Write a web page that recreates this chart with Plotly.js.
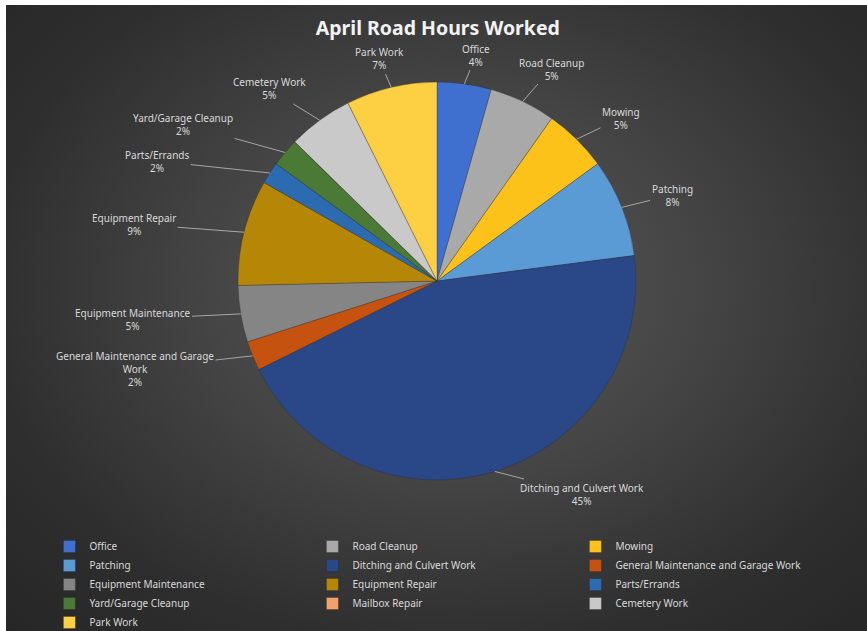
<!DOCTYPE html>
<html>
<head>
<meta charset="utf-8">
<script src="https://cdn.plot.ly/plotly-3.0.1.min.js"></script>
<style>
  html, body { margin: 0; padding: 0; background: #ffffff; }
  #bg { position: absolute; left: 6px; top: 5px; width: 861px; height: 626px;
        background: radial-gradient(ellipse at 52% 45%, #5a5a5a 0%, #444444 40%, #2e2e2e 75%, #262626 100%); }
  #chart { position: absolute; left: 0; top: 0; width: 867px; height: 631px; }
</style>
</head>
<body>
<div id="bg"></div>
<div id="chart"></div>
<script>
// ---- data ----
const categories = ["Office", "Road Cleanup", "Mowing", "Patching", "Ditching and Culvert Work",
  "General Maintenance and Garage Work", "Equipment Maintenance", "Equipment Repair",
  "Parts/Errands", "Yard/Garage Cleanup", "Mailbox Repair", "Cemetery Work", "Park Work"];
const hours = [44, 54, 52, 80, 448, 24, 46, 86, 18, 23, 0, 53, 74];
const chartTitle = "April Road Hours Worked";

// ---- styles ----
const colors = ["#3f70cf", "#a9a9a9", "#fcc21a", "#5b9bd5", "#2a4787", "#c5530f", "#858585",
  "#b68706", "#2d6bb0", "#4a7a35", "#f4a06a", "#c9c9c9", "#fdd043"];
// label centers in pixels (layout only)
const labelPos = [[476, 55], [551, 69], [621, 118], [672, 195], [582, 494], [135, 369],
  [133, 319], [134, 224], [157, 161], [183, 124], null, [269, 89], [379, 59]];

const W = 867, H = 631;
const dom = { x: [0.2745, 0.7336], y: [0.2393, 0.8700] };
const cx = (dom.x[0] + dom.x[1]) / 2 * W;
const cy = (1 - (dom.y[0] + dom.y[1]) / 2) * H;
const R = Math.min((dom.x[1] - dom.x[0]) * W, (dom.y[1] - dom.y[0]) * H) / 2;

function wrap(s, n) {
  const words = s.split(" "); const lines = []; let cur = "";
  words.forEach(w => {
    if ((cur + (cur ? " " : "") + w).length > n && cur) { lines.push(cur); cur = w; }
    else cur = cur ? cur + " " + w : w;
  });
  if (cur) lines.push(cur);
  return lines.join("<br>");
}

const total = hours.reduce((a, b) => a + b, 0);
const annotations = [];
let cum = 0;
hours.forEach((v, i) => {
  const mid = (cum + v / 2) / total * 2 * Math.PI;
  cum += v;
  if (!v || !labelPos[i]) return;
  const ex = cx + R * Math.sin(mid), ey = cy - R * Math.cos(mid);
  annotations.push({
    xref: "paper", yref: "paper", x: ex / W, y: 1 - ey / H,
    axref: "pixel", ayref: "pixel", ax: labelPos[i][0] - ex, ay: labelPos[i][1] - ey,
    text: wrap(categories[i], 30) + "<br>" + Math.round(v / total * 100) + "%",
    showarrow: true, arrowhead: 0, arrowwidth: 1, arrowcolor: "#a6a6a6", standoff: 0, startstandoff: 0,
    font: { family: "Noto Sans", size: 10, color: "#d9d9d9" }, align: "center"
  });
});

const trace = {
  type: "pie", labels: categories, values: hours, sort: false, direction: "clockwise", rotation: 0,
  textinfo: "none", hoverinfo: "label+percent",
  marker: { colors: colors, line: { color: "rgba(40,40,40,0.5)", width: 0.6 } },
  domain: dom
};

const layout = {
  width: W, height: H, margin: { l: 0, r: 0, t: 0, b: 0, autoexpand: false },
  paper_bgcolor: "rgba(0,0,0,0)", plot_bgcolor: "rgba(0,0,0,0)",
  title: { text: chartTitle, x: 0.505, xanchor: "center", y: 1 - 28 / H, yanchor: "middle", yref: "container",
    font: { family: "Noto Sans", size: 19.5, color: "#f2f2f2", weight: "bold" } },
  showlegend: true,
  legend: { orientation: "h", entrywidth: 218, entrywidthmode: "pixels", x: 0.057, xanchor: "left",
    y: 1 - 532 / H, yanchor: "top", font: { family: "Noto Sans", size: 10, color: "#d9d9d9" },
    bgcolor: "rgba(0,0,0,0)", traceorder: "normal", tracegroupgap: 0 },
  annotations: annotations
};

Plotly.newPlot("chart", [trace], layout, { displayModeBar: false, staticPlot: true });
</script>
</body>
</html>
